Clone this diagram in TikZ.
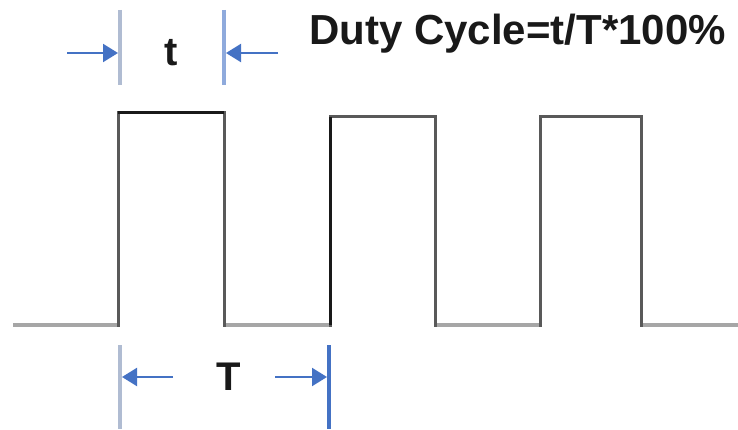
\documentclass[tikz,border=0pt]{standalone}
\usepackage{fontspec}
\setmainfont{Liberation Sans}
\usepackage{xcolor}
\usepackage{tikz}
\usetikzlibrary{arrows.meta, positioning}
\definecolor{dimblue}{HTML}{4472C4}
\definecolor{markgray}{HTML}{B0BCD2}
\definecolor{lowgray}{HTML}{A6A6A6}

\begin{document}
\begin{tikzpicture}[x=1pt, y=-1pt,
  wave/.style={black!65, line width=3pt, line cap=rect},
  lowline/.style={lowgray, line width=3.5pt},
  marker/.style={markgray, line width=3.5pt},
  dimarrow/.style={dimblue, line width=2.2pt, -{Triangle[length=15pt, width=18pt]}},
  lbl/.style={font=\bfseries\fontsize{40}{48}\selectfont, inner sep=0pt, black!90}]
  \useasboundingbox (0,0) rectangle (738,430);
  % PWM waveform, pixel units: low level y=325
  \foreach \a/\b in {13/118, 224/330, 435/540, 641/738} {
    \draw[lowline] (\a,325) -- (\b,325);
  }
  % pulses: rise / fall / top
  \foreach \r/\f/\h in {118/224/113, 330/435/117, 540/641/117} {
    \draw[wave] (\r,325) -- (\r,\h) -- (\f,\h) -- (\f,325);
  }
  \draw[black!90, line width=3pt] (118,113) -- (224,113);
  \draw[black!90, line width=3pt] (330,325) -- (330,117);
  % pulse width t
  \coordinate (ta) at (120,10);  \coordinate (tb) at (120,85);
  \coordinate (tc) at (224,10);  \coordinate (td) at (224,85);
  \draw[marker] (ta) -- (tb);
  \draw[marker, dimblue!60] (tc) -- (td);
  \coordinate (tl0) at (67,53);  \coordinate (tl1) at (118,53);
  \coordinate (tr0) at (278,53); \coordinate (tr1) at (226,53);
  \draw[dimarrow] (tl0) -- (tl1);
  \draw[dimarrow] (tr0) -- (tr1);
  \node[lbl] (tlabel) at (171,53) {t};
  % period T
  \coordinate (pa) at (120,345); \coordinate (pb) at (120,429);
  \coordinate (pc) at (329,345); \coordinate (pd) at (329,429);
  \draw[marker] (pa) -- (pb);
  \draw[marker, dimblue] (pc) -- (pd);
  \coordinate (pl0) at (173,377); \coordinate (pl1) at (122,377);
  \coordinate (pr0) at (275,377); \coordinate (pr1) at (327,377);
  \draw[dimarrow] (pl0) -- (pl1);
  \draw[dimarrow] (pr0) -- (pr1);
  \node[lbl] (Tlabel) at (229,377) {T};
  % formula
  \node[lbl, anchor=west, font=\bfseries\fontsize{42}{50}\selectfont] (formula) at (309,34) {Duty Cycle=t/T*100\%};
\end{tikzpicture}
\end{document}
